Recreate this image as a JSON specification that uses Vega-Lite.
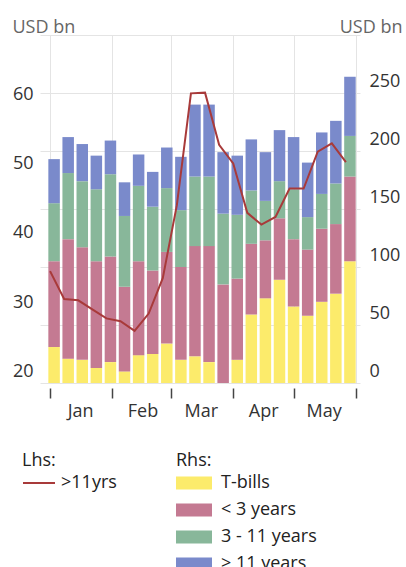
{
  "$schema": "https://vega.github.io/schema/vega-lite/v6.json",
  "width": 320,
  "height": 348,
  "autosize": {"type": "none"},
  "padding": {"left": 40, "top": 35, "right": 46, "bottom": 184},
  "background": "white",
  "config": {
    "font": "Open Sans",
    "view": {"stroke": null},
    "axis": {"labelFlush": false, "labelOverlap": false, "labelBound": false}
  },
  "datasets": {
    "bars": [
      {"date": "2020-01-03", "series": "T-bills", "o": 1, "value": 31},
      {"date": "2020-01-03", "series": "< 3 years", "o": 2, "value": 74},
      {"date": "2020-01-03", "series": "3 - 11 years", "o": 3, "value": 50},
      {"date": "2020-01-03", "series": "> 11 years", "o": 4, "value": 38},
      {"date": "2020-01-10", "series": "T-bills", "o": 1, "value": 21},
      {"date": "2020-01-10", "series": "< 3 years", "o": 2, "value": 103},
      {"date": "2020-01-10", "series": "3 - 11 years", "o": 3, "value": 57},
      {"date": "2020-01-10", "series": "> 11 years", "o": 4, "value": 31},
      {"date": "2020-01-17", "series": "T-bills", "o": 1, "value": 20},
      {"date": "2020-01-17", "series": "< 3 years", "o": 2, "value": 97},
      {"date": "2020-01-17", "series": "3 - 11 years", "o": 3, "value": 57},
      {"date": "2020-01-17", "series": "> 11 years", "o": 4, "value": 32},
      {"date": "2020-01-24", "series": "T-bills", "o": 1, "value": 13},
      {"date": "2020-01-24", "series": "< 3 years", "o": 2, "value": 92},
      {"date": "2020-01-24", "series": "3 - 11 years", "o": 3, "value": 62},
      {"date": "2020-01-24", "series": "> 11 years", "o": 4, "value": 29},
      {"date": "2020-01-31", "series": "T-bills", "o": 1, "value": 18},
      {"date": "2020-01-31", "series": "< 3 years", "o": 2, "value": 91},
      {"date": "2020-01-31", "series": "3 - 11 years", "o": 3, "value": 71},
      {"date": "2020-01-31", "series": "> 11 years", "o": 4, "value": 29},
      {"date": "2020-02-07", "series": "T-bills", "o": 1, "value": 10},
      {"date": "2020-02-07", "series": "< 3 years", "o": 2, "value": 73},
      {"date": "2020-02-07", "series": "3 - 11 years", "o": 3, "value": 61},
      {"date": "2020-02-07", "series": "> 11 years", "o": 4, "value": 29},
      {"date": "2020-02-14", "series": "T-bills", "o": 1, "value": 24},
      {"date": "2020-02-14", "series": "< 3 years", "o": 2, "value": 81},
      {"date": "2020-02-14", "series": "3 - 11 years", "o": 3, "value": 65},
      {"date": "2020-02-14", "series": "> 11 years", "o": 4, "value": 27},
      {"date": "2020-02-21", "series": "T-bills", "o": 1, "value": 25},
      {"date": "2020-02-21", "series": "< 3 years", "o": 2, "value": 72},
      {"date": "2020-02-21", "series": "3 - 11 years", "o": 3, "value": 55},
      {"date": "2020-02-21", "series": "> 11 years", "o": 4, "value": 30},
      {"date": "2020-02-28", "series": "T-bills", "o": 1, "value": 34},
      {"date": "2020-02-28", "series": "< 3 years", "o": 2, "value": 79},
      {"date": "2020-02-28", "series": "3 - 11 years", "o": 3, "value": 55},
      {"date": "2020-02-28", "series": "> 11 years", "o": 4, "value": 35},
      {"date": "2020-03-06", "series": "T-bills", "o": 1, "value": 20},
      {"date": "2020-03-06", "series": "< 3 years", "o": 2, "value": 80},
      {"date": "2020-03-06", "series": "3 - 11 years", "o": 3, "value": 49},
      {"date": "2020-03-06", "series": "> 11 years", "o": 4, "value": 46},
      {"date": "2020-03-13", "series": "T-bills", "o": 1, "value": 23},
      {"date": "2020-03-13", "series": "< 3 years", "o": 2, "value": 95},
      {"date": "2020-03-13", "series": "3 - 11 years", "o": 3, "value": 60},
      {"date": "2020-03-13", "series": "> 11 years", "o": 4, "value": 62},
      {"date": "2020-03-20", "series": "T-bills", "o": 1, "value": 18},
      {"date": "2020-03-20", "series": "< 3 years", "o": 2, "value": 100},
      {"date": "2020-03-20", "series": "3 - 11 years", "o": 3, "value": 60},
      {"date": "2020-03-20", "series": "> 11 years", "o": 4, "value": 62},
      {"date": "2020-03-27", "series": "T-bills", "o": 1, "value": 0},
      {"date": "2020-03-27", "series": "< 3 years", "o": 2, "value": 85},
      {"date": "2020-03-27", "series": "3 - 11 years", "o": 3, "value": 61},
      {"date": "2020-03-27", "series": "> 11 years", "o": 4, "value": 53},
      {"date": "2020-04-03", "series": "T-bills", "o": 1, "value": 20},
      {"date": "2020-04-03", "series": "< 3 years", "o": 2, "value": 70},
      {"date": "2020-04-03", "series": "3 - 11 years", "o": 3, "value": 55},
      {"date": "2020-04-03", "series": "> 11 years", "o": 4, "value": 51},
      {"date": "2020-04-10", "series": "T-bills", "o": 1, "value": 59},
      {"date": "2020-04-10", "series": "< 3 years", "o": 2, "value": 61},
      {"date": "2020-04-10", "series": "3 - 11 years", "o": 3, "value": 46},
      {"date": "2020-04-10", "series": "> 11 years", "o": 4, "value": 44},
      {"date": "2020-04-17", "series": "T-bills", "o": 1, "value": 73},
      {"date": "2020-04-17", "series": "< 3 years", "o": 2, "value": 50},
      {"date": "2020-04-17", "series": "3 - 11 years", "o": 3, "value": 34},
      {"date": "2020-04-17", "series": "> 11 years", "o": 4, "value": 42},
      {"date": "2020-04-24", "series": "T-bills", "o": 1, "value": 89},
      {"date": "2020-04-24", "series": "< 3 years", "o": 2, "value": 53},
      {"date": "2020-04-24", "series": "3 - 11 years", "o": 3, "value": 32},
      {"date": "2020-04-24", "series": "> 11 years", "o": 4, "value": 44},
      {"date": "2020-05-01", "series": "T-bills", "o": 1, "value": 66},
      {"date": "2020-05-01", "series": "< 3 years", "o": 2, "value": 58},
      {"date": "2020-05-01", "series": "3 - 11 years", "o": 3, "value": 43},
      {"date": "2020-05-01", "series": "> 11 years", "o": 4, "value": 45},
      {"date": "2020-05-08", "series": "T-bills", "o": 1, "value": 58},
      {"date": "2020-05-08", "series": "< 3 years", "o": 2, "value": 57},
      {"date": "2020-05-08", "series": "3 - 11 years", "o": 3, "value": 28},
      {"date": "2020-05-08", "series": "> 11 years", "o": 4, "value": 47},
      {"date": "2020-05-15", "series": "T-bills", "o": 1, "value": 70},
      {"date": "2020-05-15", "series": "< 3 years", "o": 2, "value": 63},
      {"date": "2020-05-15", "series": "3 - 11 years", "o": 3, "value": 30},
      {"date": "2020-05-15", "series": "> 11 years", "o": 4, "value": 53},
      {"date": "2020-05-22", "series": "T-bills", "o": 1, "value": 77},
      {"date": "2020-05-22", "series": "< 3 years", "o": 2, "value": 60},
      {"date": "2020-05-22", "series": "3 - 11 years", "o": 3, "value": 35},
      {"date": "2020-05-22", "series": "> 11 years", "o": 4, "value": 54},
      {"date": "2020-05-29", "series": "T-bills", "o": 1, "value": 105},
      {"date": "2020-05-29", "series": "< 3 years", "o": 2, "value": 73},
      {"date": "2020-05-29", "series": "3 - 11 years", "o": 3, "value": 35},
      {"date": "2020-05-29", "series": "> 11 years", "o": 4, "value": 51}
    ],
    "line": [
      {"date": "2020-01-01", "series": ">11yrs", "v": 34.5},
      {"date": "2020-01-08", "series": ">11yrs", "v": 30.5},
      {"date": "2020-01-15", "series": ">11yrs", "v": 30.3},
      {"date": "2020-01-22", "series": ">11yrs", "v": 29.0},
      {"date": "2020-01-29", "series": ">11yrs", "v": 27.7},
      {"date": "2020-02-05", "series": ">11yrs", "v": 27.3},
      {"date": "2020-02-12", "series": ">11yrs", "v": 25.9},
      {"date": "2020-02-19", "series": ">11yrs", "v": 28.4},
      {"date": "2020-02-26", "series": ">11yrs", "v": 33.5},
      {"date": "2020-03-04", "series": ">11yrs", "v": 44.0},
      {"date": "2020-03-11", "series": ">11yrs", "v": 60.1},
      {"date": "2020-03-18", "series": ">11yrs", "v": 60.2},
      {"date": "2020-03-25", "series": ">11yrs", "v": 52.7},
      {"date": "2020-04-01", "series": ">11yrs", "v": 50.0},
      {"date": "2020-04-08", "series": ">11yrs", "v": 42.9},
      {"date": "2020-04-15", "series": ">11yrs", "v": 41.2},
      {"date": "2020-04-22", "series": ">11yrs", "v": 42.3},
      {"date": "2020-04-29", "series": ">11yrs", "v": 46.4},
      {"date": "2020-05-06", "series": ">11yrs", "v": 46.4},
      {"date": "2020-05-13", "series": ">11yrs", "v": 51.7},
      {"date": "2020-05-20", "series": ">11yrs", "v": 52.9},
      {"date": "2020-05-27", "series": ">11yrs", "v": 50.2}
    ]
  },
  "encoding": {
    "x": {
      "field": "date",
      "type": "temporal",
      "scale": {
        "type": "utc",
        "padding": 0,
        "domain": [
          {"year": 2019, "month": 12, "date": 27, "utc": true},
          {"year": 2020, "month": 6, "date": 3, "utc": true}
        ]
      },
      "axis": {
        "title": null,
        "values": [
          {"year": 2020, "month": 1, "date": 1, "utc": true},
          {"year": 2020, "month": 2, "date": 1, "utc": true},
          {"year": 2020, "month": 3, "date": 1, "utc": true},
          {"year": 2020, "month": 4, "date": 1, "utc": true},
          {"year": 2020, "month": 5, "date": 1, "utc": true},
          {"year": 2020, "month": 6, "date": 1, "utc": true}
        ],
        "labelExpr": "utcFormat(datum.value, '%b') == 'Jun' ? '' : utcFormat(datum.value, '%b')",
        "labelOffset": 30,
        "labelPadding": 4,
        "labelFontSize": 18,
        "labelColor": "#333333",
        "tickSize": 10,
        "tickColor": "#444444",
        "tickWidth": 1.5,
        "domain": false,
        "grid": true,
        "gridColor": "#e4e4e4",
        "offset": 5
      }
    }
  },
  "layer": [
    {
      "data": {"name": "bars"},
      "mark": {"type": "bar", "width": 11.5},
      "encoding": {
        "y": {
          "field": "value",
          "type": "quantitative",
          "stack": "zero",
          "scale": {"domain": [0, 300], "nice": false},
          "axis": {
            "orient": "right",
            "values": [0, 50, 100, 150, 200, 250, 300],
            "labelExpr": "datum.value == 300 ? '' : datum.label",
            "grid": true,
            "gridColor": "#e4e4e4",
            "domain": false,
            "ticks": false,
            "labelPadding": 9,
            "labelOffset": -12,
            "labelFontSize": 18,
            "labelColor": "#333333",
            "title": "USD bn",
            "titleAngle": 0,
            "titleAlign": "right",
            "titleBaseline": "alphabetic",
            "titleX": 42,
            "titleY": -3,
            "titleFontSize": 18,
            "titleFontWeight": "normal",
            "titleColor": "#666666"
          }
        },
        "fill": {
          "field": "series",
          "type": "nominal",
          "scale": {
            "domain": ["T-bills", "< 3 years", "3 - 11 years", "> 11 years"],
            "range": ["#FCEB6B", "#C47A92", "#88B79A", "#7A8ACB"]
          },
          "legend": {
            "title": "Rhs:",
            "orient": "none",
            "legendX": 136,
            "legendY": 417,
            "symbolType": "M-1,-0.36H1V0.36H-1Z",
            "symbolSize": 1296,
            "symbolStrokeWidth": 0,
            "symbolOpacity": 1,
            "labelFontSize": 18,
            "labelColor": "#222222",
            "labelOffset": 9,
            "titleFontSize": 18,
            "titleFontWeight": "normal",
            "titleColor": "#222222",
            "titlePadding": -5,
            "rowPadding": 0
          }
        },
        "order": {"field": "o", "type": "quantitative"}
      }
    },
    {
      "data": {"name": "line"},
      "mark": {"type": "line", "strokeWidth": 2},
      "encoding": {
        "y": {
          "field": "v",
          "type": "quantitative",
          "scale": {"domain": [18.4, 68.5], "nice": false, "zero": false},
          "axis": {
            "orient": "left",
            "values": [20, 30, 40, 50, 60],
            "grid": false,
            "domain": false,
            "ticks": false,
            "labelPadding": 7,
            "labelFontSize": 18,
            "labelColor": "#333333",
            "title": "USD bn",
            "titleAngle": 0,
            "titleAlign": "left",
            "titleBaseline": "alphabetic",
            "titleX": -28,
            "titleY": -3,
            "titleFontSize": 18,
            "titleFontWeight": "normal",
            "titleColor": "#666666"
          }
        },
        "stroke": {
          "field": "series",
          "type": "nominal",
          "scale": {"domain": [">11yrs"], "range": ["#A83A3A"]},
          "legend": {
            "title": "Lhs:",
            "orient": "none",
            "legendX": -18,
            "legendY": 417,
            "symbolType": "stroke",
            "symbolSize": 1024,
            "symbolStrokeWidth": 2,
            "labelFontSize": 18,
            "labelColor": "#222222",
            "labelOffset": 5,
            "titleFontSize": 18,
            "titleFontWeight": "normal",
            "titleColor": "#222222",
            "titlePadding": -4
          }
        }
      }
    }
  ],
  "resolve": {"scale": {"y": "independent"}}
}
